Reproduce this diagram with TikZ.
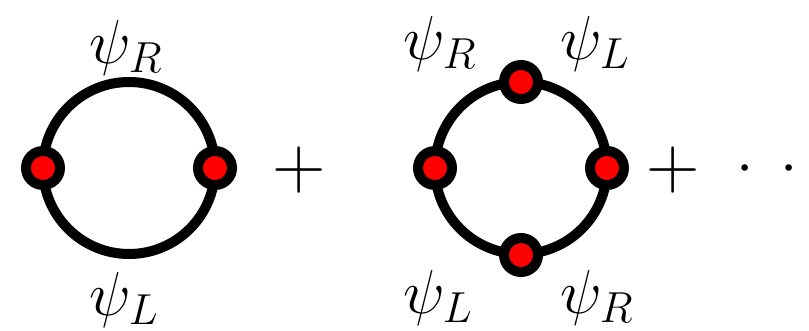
\RequirePackage{fix-cm}
\documentclass[tikz,border=0pt]{standalone}
\begin{document}
\begin{tikzpicture}[x=0.5pt,y=-0.5pt,
  loop/.style={draw=black,line width=5pt},
  vertex/.style={circle,fill=red,draw=black,line width=5pt,minimum size=17pt,inner sep=0pt},
  lbl/.style={inner sep=0pt,font=\fontsize{31}{36}\selectfont},
  op/.style={inner sep=0pt,font=\fontsize{37}{42}\selectfont}]
\useasboundingbox (0,0) rectangle (809,331);
% first diagram
\coordinate (c1) at (129,168);
\draw[loop] (c1) circle (86);
\node[vertex] (a1) at (43,168) {};
\node[vertex] (a2) at (215,168) {};
\node[lbl] (t1) at (126,48) {$\psi_R$};
\node[lbl] (b1) at (124,300) {$\psi_L$};
\node[op] (p1) at (299,170) {$+$};
% second diagram
\coordinate (c2) at (521,168);
\draw[loop] (c2) circle (86);
\node[vertex] (d1) at (435,168) {};
\node[vertex] (d2) at (607,168) {};
\node[vertex] (d3) at (521,82) {};
\node[vertex] (d4) at (521,255) {};
\node[lbl] (t2) at (440,44) {$\psi_R$};
\node[lbl] (t3) at (595,44) {$\psi_L$};
\node[lbl] (b2) at (438,298) {$\psi_L$};
\node[lbl] (b3) at (597,298) {$\psi_R$};
\node[op] (p2) at (673,170) {$+$};
\node[lbl,anchor=west] (dots) at (736,170) {$\cdot\kern6.4pt\cdot\kern6.4pt\cdot$};
\end{tikzpicture}
\end{document}
